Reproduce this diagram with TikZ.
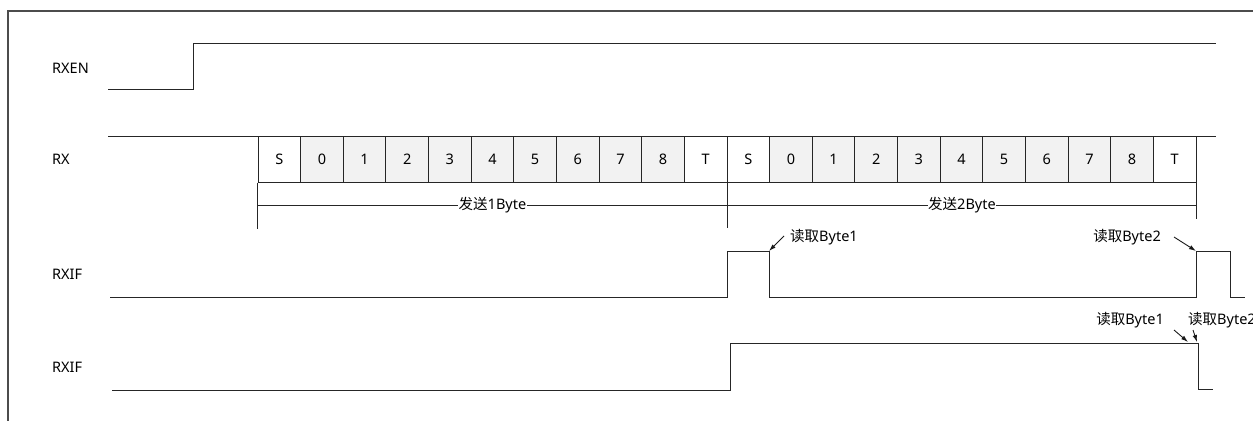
\documentclass[tikz,border=0pt]{standalone}
\usepackage{fontspec}
\setmainfont{Noto Sans}
\newfontfamily\cjk{Noto Sans CJK SC}
\usetikzlibrary{arrows.meta,calc}
\begin{document}
\begin{tikzpicture}[x=1pt,y=-1pt,
  wave/.style={draw=black!85,line width=1pt},
  frame/.style={draw=black!70,line width=1.3pt},
  sig/.style={anchor=west,inner sep=0pt,font=\fontsize{14.5}{16}\selectfont},
  lbl/.style={inner sep=0pt,font=\fontsize{14.5}{16}\selectfont},
  cellw/.style={draw=black!85,line width=1pt,fill=white,minimum width=42.636pt,minimum height=46pt,inner sep=0pt,font=\fontsize{14.5}{16}\selectfont},
  celld/.style={cellw,fill=black!5},
  note/.style={-{Latex[length=7pt,width=4.5pt]},line width=0.9pt,draw=black!90},
  seglbl/.style={fill=white,inner sep=0.5pt,font=\fontsize{14.5}{16}\selectfont}]
\useasboundingbox (0,0) rectangle (1253,421);
% frame
\draw[frame] (1253,11) -- (8,11) -- (8,421);
% signal labels
\node[sig] (lrxen) at (52,68) {RXEN};
\node[sig] (lrx) at (52,159) {RX};
\node[sig] (lif1) at (52,274) {RXIF};
\node[sig] (lif2) at (52,367) {RXIF};
% RXEN
\draw[wave] (108,89) -- (193,89) -- (193,43) -- (1216,43);
% RX line
\draw[wave] (108,136) -- (1216,136);
% cells
\foreach \t [count=\i from 0] in {S,0,1,2,3,4,5,6,7,8,T,S,0,1,2,3,4,5,6,7,8,T}{
  \pgfmathsetmacro{\cx}{258+(\i+0.5)*42.636}
  \ifnum\i=0 \node[cellw] (c\i) at (\cx,159) {\t};
  \else\ifnum\i=10 \node[cellw] (c\i) at (\cx,159) {\t};
  \else\ifnum\i=11 \node[cellw] (c\i) at (\cx,159) {\t};
  \else\ifnum\i=21 \node[cellw] (c\i) at (\cx,159) {\t};
  \else \node[celld] (c\i) at (\cx,159) {\t};
  \fi\fi\fi\fi
}
% byte brackets
\coordinate (b0) at (c0.south west);
\coordinate (b1) at (c10.south east);
\coordinate (b2) at (c21.south east);
\draw[wave] (b0) -- ++(0,46);
\draw[wave] (b1) -- ++(0,45);
\draw[wave] (b2) -- ++(0,36);
\draw[wave] ([yshift=-23pt]b0) -- ([yshift=-23pt]b2);
\node[seglbl] (s1) at ($ (b0)!0.5!(b1) + (0,23) $) {{\cjk 发送}1Byte};
\node[seglbl] (s2) at ($ (b1)!0.5!(b2) + (0,23) $) {{\cjk 发送}2Byte};
% RXIF 1
\coordinate (p1) at (769,251);
\coordinate (p2) at (1196,251);
\draw[wave] (110,297) -- (727,297) -- (727,251) -- (p1) -- (769,297) -- (1196,297) -- (p2) -- (1230,251) -- (1230,297) -- (1245,297);
\node[lbl,anchor=west] (r1) at (790,237) {{\cjk 读取}Byte1};
\node[lbl,anchor=east] (r2) at (1161,237) {{\cjk 读取}Byte2};
\coordinate (a1) at (784,236);
\coordinate (a2) at (1174,237);
\draw[note] (a1) -- (p1);
\draw[note] (a2) -- (p2);
% RXIF 2
\coordinate (q1) at (1188,342);
\coordinate (q2) at (1197,342);
\draw[wave] (112,390) -- (730,390) -- (730,343) -- (1198,343) -- (1198,389) -- (1213,389);
\node[lbl,anchor=east] (r3) at (1164,320) {{\cjk 读取}Byte1};
\node[lbl,anchor=west] (r4) at (1188,320) {{\cjk 读取}Byte2};
\coordinate (a3) at (1174,330);
\coordinate (a4) at (1193,330);
\draw[note] (a3) -- (q1);
\draw[note] (a4) -- (q2);
\end{tikzpicture}
\end{document}
